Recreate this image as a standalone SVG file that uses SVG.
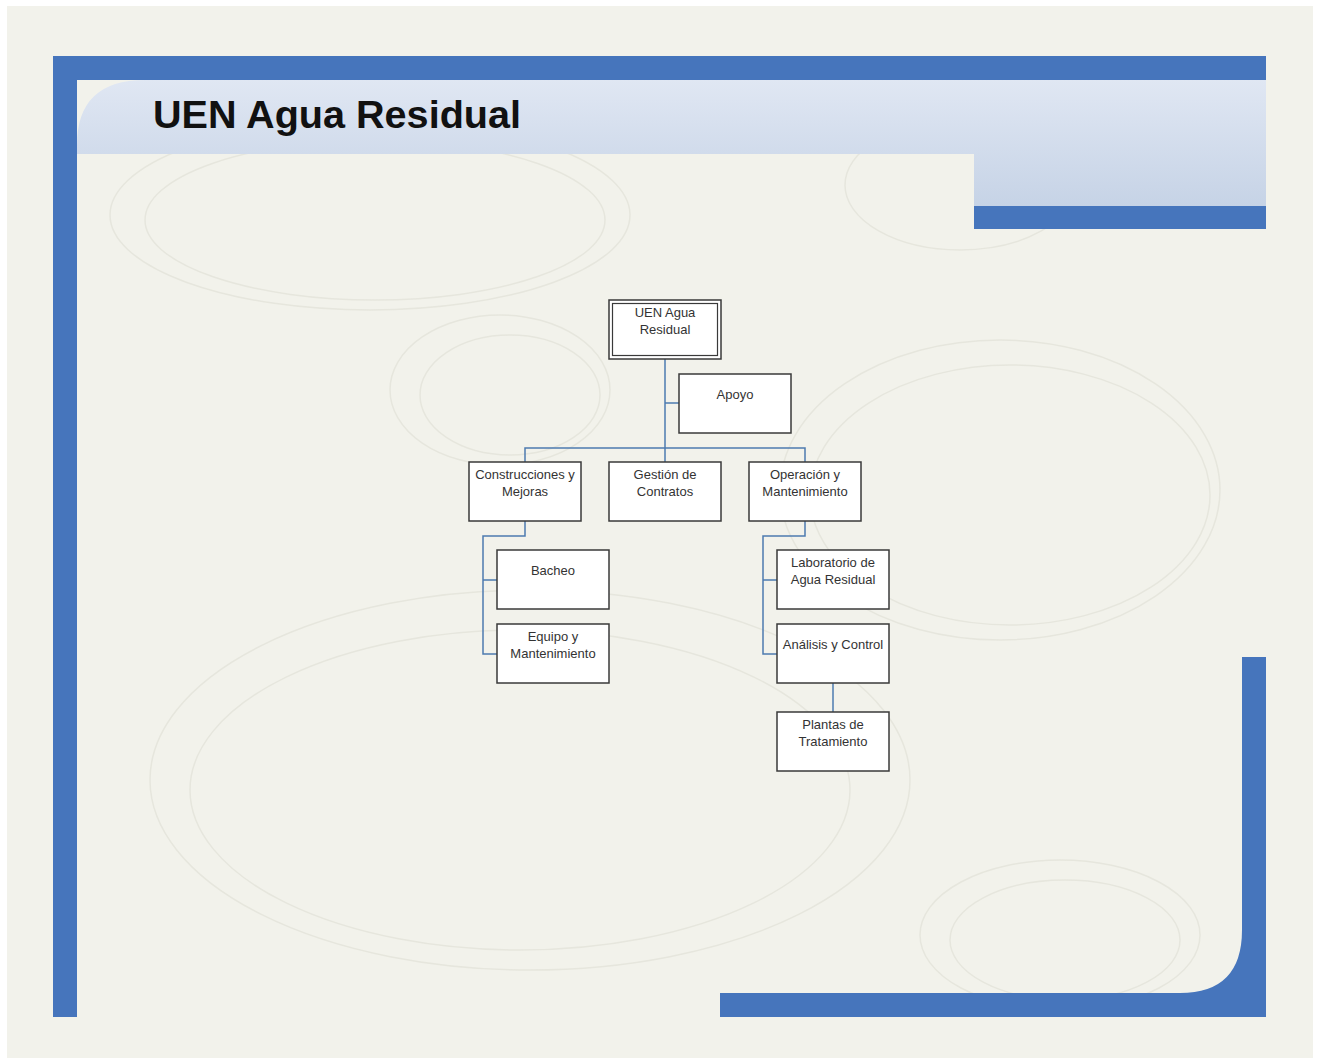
<svg xmlns="http://www.w3.org/2000/svg" width="1319" height="1061" viewBox="0 0 1319 1061">
<defs>
<linearGradient id="hdr" x1="0" y1="0" x2="0" y2="1">
<stop offset="0" stop-color="#e0e7f3"/>
<stop offset="1" stop-color="#c6d3e6"/>
</linearGradient>
</defs>
<style>
.box{fill:#ffffff;stroke:#3a3a3a;stroke-width:1.5}
.lbl{font-family:"Liberation Sans",Arial,sans-serif;font-size:13px;fill:#333333;text-anchor:middle}
.con{fill:none;stroke:#4d7bb0;stroke-width:1.5}
.deco{fill:none;stroke:#e6e6dd;stroke-width:1.5}
.blue{fill:#4675bc}
</style>
<rect x="0" y="0" width="1319" height="1061" fill="#ffffff"/>
<rect x="7" y="6" width="1306" height="1052" fill="#f2f2eb"/>
<g id="background">
<ellipse class="deco" cx="370" cy="215" rx="260" ry="95"/>
<ellipse class="deco" cx="375" cy="220" rx="230" ry="80"/>
<ellipse class="deco" cx="500" cy="390" rx="110" ry="75"/>
<ellipse class="deco" cx="510" cy="395" rx="90" ry="60"/>
<ellipse class="deco" cx="1000" cy="490" rx="220" ry="150"/>
<ellipse class="deco" cx="1010" cy="495" rx="200" ry="130"/>
<ellipse class="deco" cx="530" cy="780" rx="380" ry="190"/>
<ellipse class="deco" cx="520" cy="790" rx="330" ry="160"/>
<ellipse class="deco" cx="1060" cy="935" rx="140" ry="75"/>
<ellipse class="deco" cx="1065" cy="940" rx="115" ry="60"/>
<ellipse class="deco" cx="960" cy="185" rx="115" ry="65"/>
</g>
<g id="frame">
<path d="M77 154 L77 145 Q77 80 145 80 L1266 80 L1266 206 L974 206 L974 154 Z" fill="url(#hdr)"/>
<rect class="blue" x="53" y="56" width="1213" height="24"/>
<rect class="blue" x="53" y="56" width="24" height="961"/>
<rect class="blue" x="974" y="206" width="292" height="23"/>
<path class="blue" d="M1242 657 L1266 657 L1266 1017 L720 1017 L720 993 L1180 993 Q1242 993 1242 930 Z"/>
<text x="153" y="128" font-family="'Liberation Sans',Arial,sans-serif" font-size="38" font-weight="bold" fill="#111111" textLength="368" lengthAdjust="spacingAndGlyphs">UEN Agua Residual</text>
</g>
<g id="connectors">
<path class="con" d="M665 359 V448"/>
<path class="con" d="M665 403 H679"/>
<path class="con" d="M525 462 V448 H805 V462"/>
<path class="con" d="M665 448 V462"/>
<path class="con" d="M525 521 V536 H483 V654 H497"/>
<path class="con" d="M483 580 H497"/>
<path class="con" d="M805 521 V536 H763 V654 H777"/>
<path class="con" d="M763 580 H777"/>
<path class="con" d="M833 683 V712"/>
</g>
<g id="node-root">
<rect class="box" x="609" y="300" width="112" height="59"/>
<rect x="612.5" y="303.5" width="105" height="52" fill="none" stroke="#3a3a3a" stroke-width="1.2"/>
<text class="lbl" x="665" y="317">UEN Agua</text>
<text class="lbl" x="665" y="334">Residual</text>
</g>
<g id="node-apoyo">
<rect class="box" x="679" y="374" width="112" height="59"/>
<text class="lbl" x="735" y="399">Apoyo</text>
</g>
<g id="node-construcciones">
<rect class="box" x="469" y="462" width="112" height="59"/>
<text class="lbl" x="525" y="479">Construcciones y</text>
<text class="lbl" x="525" y="496">Mejoras</text>
</g>
<g id="node-gestion">
<rect class="box" x="609" y="462" width="112" height="59"/>
<text class="lbl" x="665" y="479">Gestión de</text>
<text class="lbl" x="665" y="496">Contratos</text>
</g>
<g id="node-operacion">
<rect class="box" x="749" y="462" width="112" height="59"/>
<text class="lbl" x="805" y="479">Operación y</text>
<text class="lbl" x="805" y="496">Mantenimiento</text>
</g>
<g id="node-bacheo">
<rect class="box" x="497" y="550" width="112" height="59"/>
<text class="lbl" x="553" y="575">Bacheo</text>
</g>
<g id="node-equipo">
<rect class="box" x="497" y="624" width="112" height="59"/>
<text class="lbl" x="553" y="641">Equipo y</text>
<text class="lbl" x="553" y="658">Mantenimiento</text>
</g>
<g id="node-laboratorio">
<rect class="box" x="777" y="550" width="112" height="59"/>
<text class="lbl" x="833" y="567">Laboratorio de</text>
<text class="lbl" x="833" y="584">Agua Residual</text>
</g>
<g id="node-analisis">
<rect class="box" x="777" y="624" width="112" height="59"/>
<text class="lbl" x="833" y="649">Análisis y Control</text>
</g>
<g id="node-plantas">
<rect class="box" x="777" y="712" width="112" height="59"/>
<text class="lbl" x="833" y="729">Plantas de</text>
<text class="lbl" x="833" y="746">Tratamiento</text>
</g>
</svg>
